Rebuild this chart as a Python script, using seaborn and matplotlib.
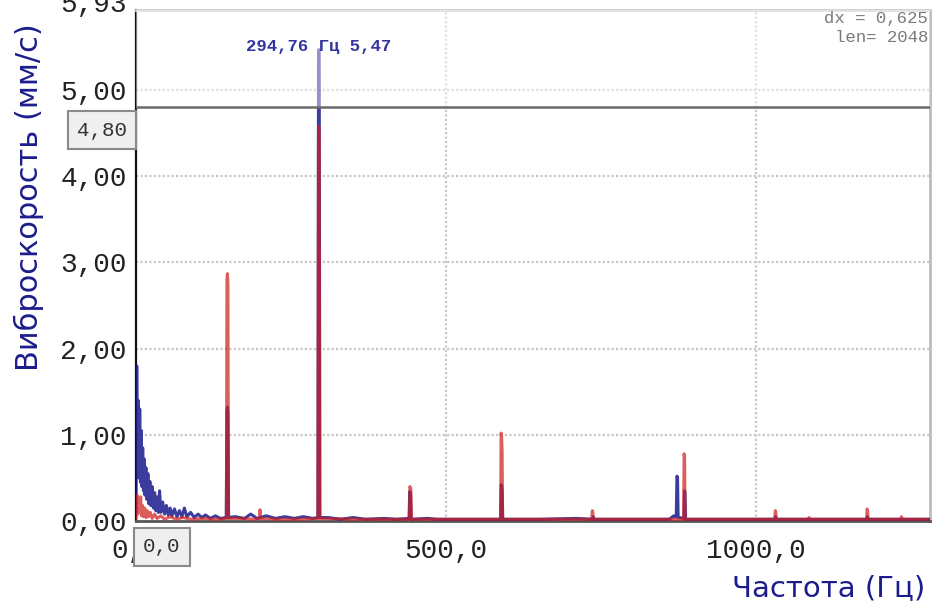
import matplotlib
matplotlib.use("Agg")
import matplotlib.pyplot as plt
import matplotlib.transforms as mtransforms
import seaborn as sns
import pandas as pd

# Vibration velocity spectrum, channel 1 (blue): frequency (Hz) / amplitude (mm/s)
blue_freq = [0.0, 1.2, 2.4, 3.6, 4.8, 6.0, 7.2, 8.4, 9.6, 10.8, 12.0, 13.2, 14.4, 16.0,
             17.6, 19.2, 20.8, 22.4, 24.0, 26.0, 28.0, 30.0, 32.0, 34.0, 36.0, 38.0,
             40.0, 43.0, 46.0, 49.0, 52.0, 55.0, 58.0, 62.0, 66.0, 70.0, 74.0, 78.0,
             82.0, 88.0, 94.0, 100.0, 106.0, 112.0, 120.0, 128.0, 136.0, 145.5,
             146.6, 147.4, 148.2, 149.3, 160.0, 175.0, 185.0, 195.0, 210.0, 225.0,
             240.0, 255.0, 270.0, 285.0, 293.2, 294.2, 294.76, 295.4, 296.4, 310.0,
             330.0, 350.0, 370.0, 400.0, 420.0, 440.2, 441.2, 441.8, 442.6, 443.6,
             470.0, 485.0, 587.8, 588.8, 589.4, 590.2, 591.2, 650.0, 710.0, 736.0,
             737.0, 738.0, 860.0, 865.0, 867.0, 869.5, 871.0, 872.0, 873.0, 874.0,
             876.0, 883.4, 884.2, 885.0, 886.0, 1030.0, 1031.0, 1032.0, 1178.0,
             1179.0, 1180.0, 1280.0]
blue_amp = [0.10, 1.80, 0.70, 1.40, 0.50, 1.30, 0.45, 1.05, 0.40, 0.85, 0.35, 0.72, 0.30, 0.62,
            0.25, 0.55, 0.20, 0.46, 0.18, 0.40, 0.15, 0.33, 0.12, 0.28, 0.10, 0.35,
            0.10, 0.22, 0.08, 0.18, 0.07, 0.15, 0.06, 0.14, 0.05, 0.12, 0.05, 0.15,
            0.05, 0.10, 0.04, 0.08, 0.04, 0.07, 0.03, 0.06, 0.03, 0.04,
            1.28, 1.32, 1.25, 0.04, 0.05, 0.03, 0.08, 0.03, 0.06, 0.03,
            0.05, 0.03, 0.05, 0.03, 0.04, 5.30, 5.47, 5.25, 0.04, 0.04,
            0.02, 0.04, 0.02, 0.03, 0.02, 0.03, 0.34, 0.33, 0.30, 0.02,
            0.03, 0.02, 0.02, 0.42, 0.40, 0.36, 0.02, 0.02, 0.03, 0.02,
            0.05, 0.02, 0.02, 0.05, 0.06, 0.05, 0.06, 0.52, 0.50, 0.04,
            0.04, 0.03, 0.35, 0.33, 0.02, 0.02, 0.05, 0.02, 0.02,
            0.05, 0.02, 0.02]

# Channel 2 (red)
red_freq = [0.0, 1.5, 3.0, 4.5, 6.0, 7.5, 9.0, 10.5, 12.0, 14.0, 16.0, 18.0, 20.0, 23.0,
            26.0, 30.0, 34.0, 40.0, 46.0, 55.0, 65.0, 75.0, 90.0, 110.0, 130.0, 145.8,
            146.6, 147.4, 148.2, 149.0, 170.0, 190.0, 199.0, 200.0, 201.0, 230.0, 260.0,
            293.4, 294.2, 294.8, 295.4, 296.2, 350.0, 420.0, 440.8, 441.6, 442.4, 443.2,
            444.0, 500.0, 587.8, 588.6, 589.4, 590.2, 591.0, 700.0, 734.8, 735.6, 736.4,
            737.2, 800.0, 882.8, 883.6, 884.4, 885.2, 886.0, 950.0, 1029.8, 1030.6,
            1031.4, 1032.2, 1084.0, 1085.0, 1086.0, 1177.8, 1178.6, 1179.4, 1180.2,
            1233.0, 1234.0, 1235.0, 1280.0]
red_amp = [0.02, 0.30, 0.08, 0.25, 0.12, 0.28, 0.06, 0.18, 0.05, 0.15, 0.04, 0.12, 0.05, 0.10,
           0.03, 0.08, 0.03, 0.06, 0.02, 0.05, 0.02, 0.04, 0.02, 0.03, 0.02, 0.03,
           2.80, 2.87, 2.75, 0.03, 0.03, 0.02, 0.03, 0.13, 0.03, 0.02, 0.02,
           0.03, 4.50, 4.58, 4.40, 0.03, 0.02, 0.02, 0.02, 0.40, 0.38, 0.36,
           0.02, 0.02, 0.02, 1.02, 0.98, 0.80, 0.02, 0.02, 0.02, 0.12, 0.10,
           0.02, 0.02, 0.02, 0.78, 0.74, 0.02, 0.02, 0.02, 0.02, 0.12,
           0.10, 0.02, 0.02, 0.04, 0.02, 0.02, 0.14, 0.12, 0.02,
           0.02, 0.05, 0.02, 0.02]

y_ticks = [0.0, 1.0, 2.0, 3.0, 4.0, 5.0, 5.93]
y_tick_labels = ["0,00", "1,00", "2,00", "3,00", "4,00", "5,00", "5,93"]
x_ticks = [0.0, 500.0, 1000.0]
x_tick_labels = ["0,0", "500,0", "1000,0"]

cursor_level = 4.80
peak_freq, peak_amp = 294.76, 5.47
dx, n_len = "0,625", 2048

blue_df = pd.DataFrame({"freq": blue_freq, "amp": blue_amp})
red_df = pd.DataFrame({"freq": red_freq, "amp": red_amp})

sns.set_style("white")
mono = ["Liberation Mono", "DejaVu Sans Mono"]
sans = ["DejaVu Sans"]

fig = plt.figure(figsize=(9.33, 6.10), dpi=100)
ax = fig.add_axes([136 / 933, 89 / 610, (930 - 136) / 933, (521 - 10) / 610])

sns.lineplot(data=blue_df, x="freq", y="amp", ax=ax, color="#1a1a8e", alpha=0.85,
             linewidth=2.2, estimator=None, sort=False, zorder=3)
sns.lineplot(data=red_df, x="freq", y="amp", ax=ax, color="#d01e1e", alpha=0.72,
             linewidth=2.2, estimator=None, sort=False, zorder=4)

ax.set_xlim(0, 1280)
ax.set_ylim(0, 5.93)

# dotted grid
for yv in y_ticks[1:-1]:
    ax.axhline(yv, color="#c8c8c8", linestyle=(0, (1, 1)), linewidth=1.6, zorder=1)
for xv in x_ticks[1:]:
    ax.axvline(xv, color="#c8c8c8", linestyle=(0, (1, 1)), linewidth=1.6, zorder=1)

# area above the cursor is shown faded
ax.axhspan(cursor_level, 5.93, color="white", alpha=0.45, zorder=5, lw=0)
ax.axhline(cursor_level, color="#6a6a6a", linewidth=1.8, zorder=6)

ax.set_yticks(y_ticks)
ax.set_yticklabels(y_tick_labels)
ax.set_xticks(x_ticks)
ax.set_xticklabels(x_tick_labels)
ax.tick_params(axis="both", which="both", direction="out", length=4.5, width=1.5,
               colors="#555555", labelcolor="#222222", labelsize=20)
ax.tick_params(axis="y", pad=2)
ax.tick_params(axis="x", pad=8)
for lab in ax.get_xticklabels() + ax.get_yticklabels():
    lab.set_fontfamily(mono)

# the top-limit label sits partly above the figure edge
top_lab = ax.get_yticklabels()[-1]
top_lab.set_transform(top_lab.get_transform() +
                      mtransforms.ScaledTranslation(0, 6 / 72, fig.dpi_scale_trans))

ax.set_xlabel("")
ax.set_ylabel("")

for side, col, lw in [("left", "#111111", 1.6), ("bottom", "#555555", 2.0),
                      ("top", "#cccccc", 2.0), ("right", "#bbbbbb", 2.0)]:
    ax.spines[side].set_color(col)
    ax.spines[side].set_linewidth(lw)
    ax.spines[side].set_visible(True)

# axis titles
fig.text(29 / 933, 1 - 197 / 610, "Виброскорость (мм/с)", rotation=90, ha="center",
         va="center", fontsize=22, color="#1c1c8c", family=sans)
fig.text(925 / 933, 1 - 588 / 610, "Частота (Гц)", ha="right", va="center",
         fontsize=21, color="#1c1c8c", family=sans)

# peak marker label
ax.annotate(f"{peak_freq:.2f} Гц {peak_amp:.2f}".replace(".", ","),
            xy=(peak_freq, peak_amp), xytext=(peak_freq, 1 - 47 / 610),
            textcoords=("data", "figure fraction"), ha="center", va="center",
            fontsize=12.5, color="#3434a0", family=mono, fontweight="bold", zorder=8)

# record info
fig.text(928 / 933, 1 - 19 / 610, f"dx = {dx}", ha="right", va="center",
         fontsize=12.5, color="#7a7a7a", family=mono)
fig.text(928 / 933, 1 - 38 / 610, f"len= {n_len}", ha="right", va="center",
         fontsize=12.5, color="#7a7a7a", family=mono)

# cursor value boxes
fig.text(102 / 933, 1 - 130 / 610, "4,80", ha="center", va="center", fontsize=15,
         color="#333333", family=mono,
         bbox=dict(boxstyle="square,pad=0.45", facecolor="#efefef", edgecolor="#8a8a8a",
                   linewidth=1.5))
fig.text(162 / 933, 1 - 547 / 610, "0,0", ha="center", va="center", fontsize=15,
         color="#333333", family=mono,
         bbox=dict(boxstyle="square,pad=0.45", facecolor="#efefef", edgecolor="#8a8a8a",
                   linewidth=1.5))

fig.savefig("out.png", dpi=100)
